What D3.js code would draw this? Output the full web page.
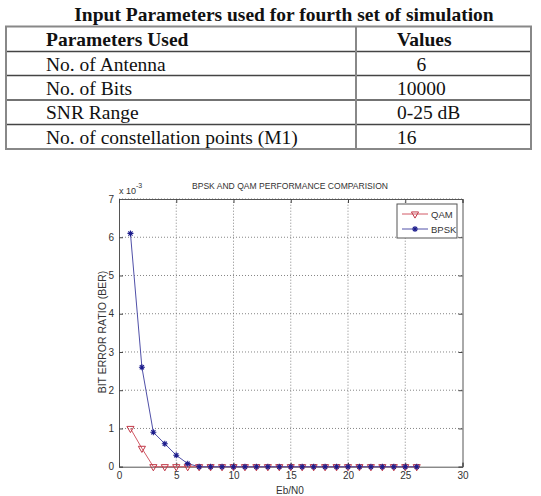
<!DOCTYPE html>
<meta charset="utf-8">
<style>
body { margin: 0; background: #fff; }
svg { display: block; }
.tbl text { font-family: "Liberation Serif", "Times New Roman", serif; font-size: 19.5px; fill: #111; white-space: pre; }
.tbl .bold { font-weight: bold; }
.plot text { font-family: "Liberation Sans", Arial, sans-serif; fill: #333; }
</style>
<svg width="541" height="496"></svg>
<script src="https://d3js.org/d3.v7.min.js"></script>
<script>

// table contents
var tableTitle = "Input Parameters used for fourth set of simulation";
var tableHeader = ["Parameters Used", "Values"];
var paramNames = ["No. of Antenna", "No. of Bits", "SNR Range", "No. of constellation points (M1)"];
var paramValues = ["    6", "10000", "0-25 dB", "16"];

// chart data (x = Eb/N0, BER)
var ebno = d3.range(1, 27);
var qamBer = [0.0010, 0.00048, 0, 0, 0, 0, 0, 0, 0, 0, 0, 0, 0, 0, 0, 0, 0, 0, 0, 0, 0, 0, 0, 0, 0, 0];
var bpskBer = [0.0061, 0.0026, 0.0009, 0.0006, 0.0003, 0.00008, 0, 0, 0, 0, 0, 0, 0, 0, 0, 0, 0, 0, 0, 0, 0, 0, 0, 0, 0, 0];
var xTicks = [0, 5, 10, 15, 20, 25, 30];
var yTicks = [0, 0.001, 0.002, 0.003, 0.004, 0.005, 0.006, 0.007];

var svg = d3.select("svg");

// ---- table ----
var tbl = svg.append("g").attr("class", "tbl");
var tLeft = 6, tRight = 531, tDiv = 356;
var rowY = [26.5, 51.5, 75.5, 100, 124.5, 149];

tbl.append("text").attr("class", "bold")
    .attr("x", 284).attr("y", 21).attr("text-anchor", "middle")
    .text(tableTitle);

// inner horizontal lines
tbl.selectAll("line.h").data(rowY.slice(1, -1)).enter().append("line")
    .attr("x1", tLeft).attr("x2", tRight)
    .attr("y1", function(d) { return d; }).attr("y2", function(d) { return d; })
    .attr("stroke", "#444").attr("stroke-width", 1.3);

tbl.append("line")
    .attr("x1", tDiv).attr("x2", tDiv).attr("y1", rowY[0]).attr("y2", rowY[rowY.length - 1])
    .attr("stroke", "#888").attr("stroke-width", 2);

tbl.append("rect")
    .attr("x", tLeft).attr("y", rowY[0])
    .attr("width", tRight - tLeft).attr("height", rowY[rowY.length - 1] - rowY[0])
    .attr("fill", "none").attr("stroke", "#888").attr("stroke-width", 2);

tbl.append("text").attr("class", "bold").attr("x", 46).attr("y", 46).text(tableHeader[0]);
tbl.append("text").attr("class", "bold").attr("x", 397).attr("y", 46).text(tableHeader[1]);

tbl.selectAll("text.name").data(paramNames).enter().append("text")
    .attr("class", "name")
    .attr("x", 46).attr("y", function(d, i) { return rowY[i + 1] + 19; })
    .text(function(d) { return d; });

tbl.selectAll("text.val").data(paramValues).enter().append("text")
    .attr("class", "val")
    .attr("x", 397).attr("y", function(d, i) { return rowY[i + 1] + 19; })
    .text(function(d) { return d; });

// ---- chart ----
var plot = svg.append("g").attr("class", "plot");
var x = d3.scaleLinear().domain([0, 30]).range([119, 462.5]);
var y = d3.scaleLinear().domain([0, 0.007]).range([466.7, 199]);

// grid
plot.selectAll("line.gx").data(xTicks.slice(1, -1)).enter().append("line")
    .attr("x1", d => x(d)).attr("x2", d => x(d)).attr("y1", y(0)).attr("y2", y(0.007))
    .attr("stroke", "#666").attr("stroke-width", 0.8).attr("stroke-dasharray", "1,2");
plot.selectAll("line.gy").data(yTicks.slice(1)).enter().append("line")
    .attr("x1", x(0)).attr("x2", x(30)).attr("y1", d => y(d)).attr("y2", d => y(d))
    .attr("stroke", "#666").attr("stroke-width", 0.8).attr("stroke-dasharray", "1,2");

// axes with inward ticks
var fmtY = d => String(Math.round(d * 1000));
plot.append("g").attr("transform", "translate(" + x(0) + ",0)")
    .call(d3.axisLeft(y).tickValues(yTicks).tickSize(-4).tickPadding(5).tickFormat(fmtY));
plot.append("g").attr("transform", "translate(" + x(30) + ",0)")
    .call(d3.axisRight(y).tickValues(yTicks).tickSize(-4).tickFormat(""));
plot.append("g").attr("transform", "translate(0," + y(0) + ")")
    .call(d3.axisBottom(x).tickValues(xTicks).tickSize(-4).tickPadding(5).tickFormat(d3.format("d")));
plot.append("g").attr("transform", "translate(0," + y(0.007) + ")")
    .call(d3.axisTop(x).tickValues(xTicks).tickSize(-4).tickFormat(""));

plot.selectAll(".domain").attr("stroke", "#555");
plot.selectAll(".tick line").attr("stroke", "#444");
plot.selectAll(".tick text").attr("font-size", 10).attr("fill", "#444")
    .attr("font-family", "Liberation Sans, Arial, sans-serif");

// titles
plot.append("text").attr("x", 290).attr("y", 189).attr("text-anchor", "middle")
    .attr("font-size", 9.5).attr("textLength", 196).attr("lengthAdjust", "spacingAndGlyphs")
    .text("BPSK AND QAM PERFORMANCE COMPARISION");
var mult = plot.append("text").attr("x", 119).attr("y", 194).attr("font-size", 9);
mult.append("tspan").text("x 10");
mult.append("tspan").attr("dy", -6).attr("font-size", 7).text("-3");
plot.append("text").attr("x", 290).attr("y", 494).attr("text-anchor", "middle")
    .attr("font-size", 10).text("Eb/N0");
plot.append("text").attr("transform", "translate(106,332) rotate(-90)")
    .attr("text-anchor", "middle").attr("font-size", 10.5)
    .text("BIT ERROR RATIO (BER)");

// series
var line = d3.line().x((d, i) => x(ebno[i])).y(d => y(d));
var qamLine = "#d25a66", qamMark = "#c23848";
var bpskLine = "#5050a8", bpskMark = "#1c1c8c";

plot.append("path").datum(qamBer).attr("d", line)
    .attr("fill", "none").attr("stroke", qamLine).attr("stroke-width", 1);
plot.append("path").datum(bpskBer).attr("d", line)
    .attr("fill", "none").attr("stroke", bpskLine).attr("stroke-width", 1);

var tri = d3.symbol().type(d3.symbolTriangle).size(22);
function drawTri(g, cx, cy) {
  g.append("path").attr("d", tri())
    .attr("transform", "translate(" + cx + "," + cy + ") rotate(180)")
    .attr("fill", "none").attr("stroke", qamMark).attr("stroke-width", 1);
}
function drawStar(g, cx, cy) {
  var r = 3;
  g.append("path")
    .attr("d", "M" + (cx - r) + "," + cy + "H" + (cx + r) + "M" + cx + "," + (cy - r) + "V" + (cy + r) +
      "M" + (cx - r * 0.7) + "," + (cy - r * 0.7) + "L" + (cx + r * 0.7) + "," + (cy + r * 0.7) +
      "M" + (cx - r * 0.7) + "," + (cy + r * 0.7) + "L" + (cx + r * 0.7) + "," + (cy - r * 0.7))
    .attr("stroke", bpskMark).attr("stroke-width", 1.1);
}
qamBer.forEach(function(v, i) { drawTri(plot, x(ebno[i]), y(v)); });
bpskBer.forEach(function(v, i) { drawStar(plot, x(ebno[i]), y(v)); });

// legend
var lg = plot.append("g");
lg.append("rect").attr("x", 397).attr("y", 204).attr("width", 60).attr("height", 34)
    .attr("fill", "#fff").attr("stroke", "#555").attr("stroke-width", 1);
lg.append("line").attr("x1", 402).attr("x2", 428).attr("y1", 214).attr("y2", 214)
    .attr("stroke", qamLine);
drawTri(lg, 415, 214);
lg.append("line").attr("x1", 402).attr("x2", 428).attr("y1", 229).attr("y2", 229)
    .attr("stroke", bpskLine);
drawStar(lg, 415, 229);
lg.append("text").attr("x", 431).attr("y", 217.5).attr("font-size", 9.5).text("QAM");
lg.append("text").attr("x", 431).attr("y", 232.5).attr("font-size", 9.5).text("BPSK");

</script>
